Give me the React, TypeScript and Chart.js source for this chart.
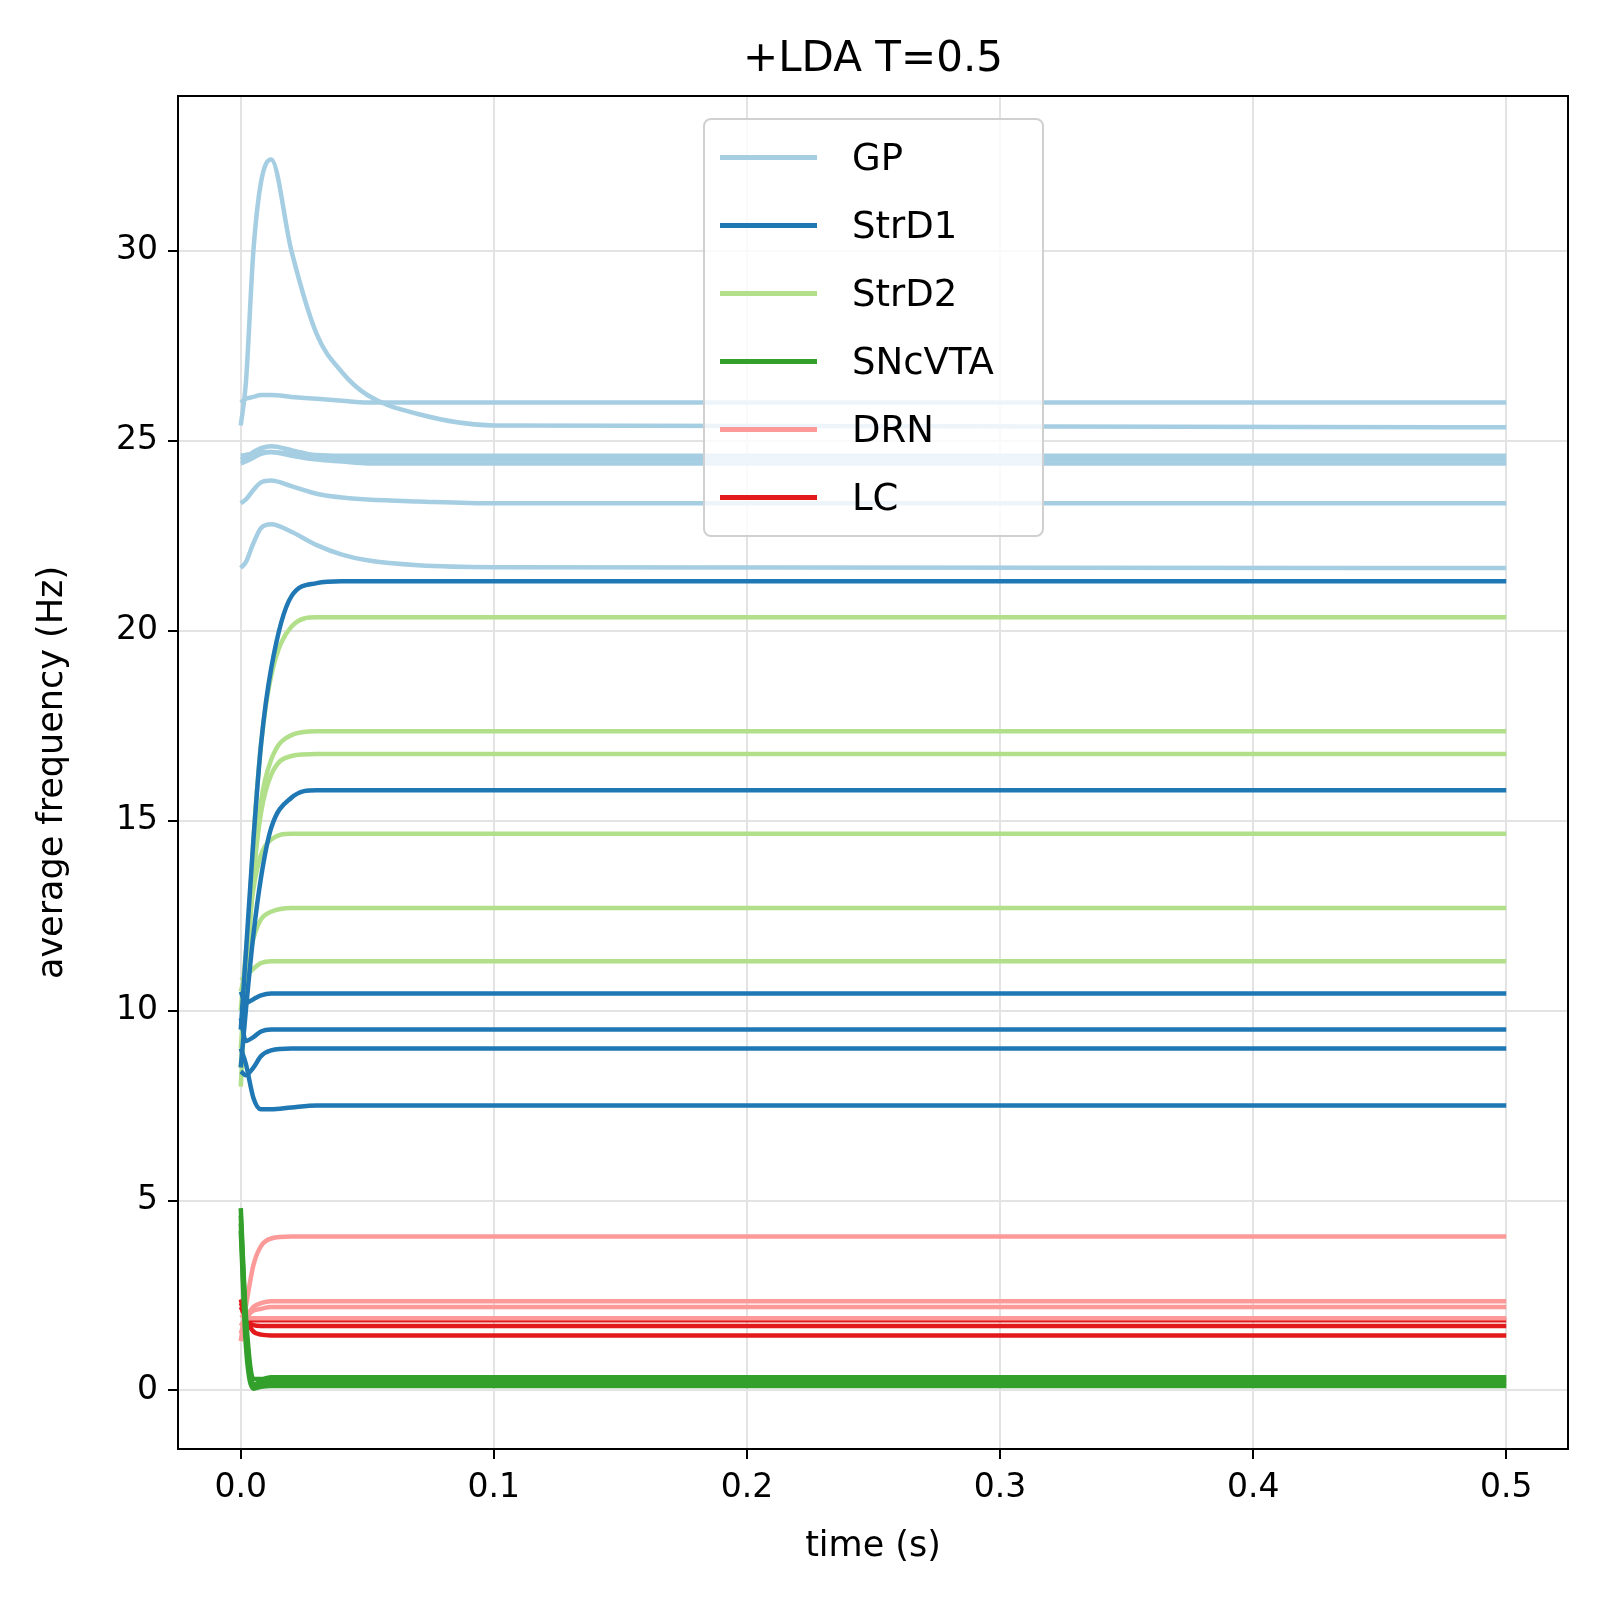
import { useEffect, useRef } from "react";
import { Chart, registerables, type Plugin } from "chart.js";

Chart.register(...registerables);

const TIMES = [0, 0.002, 0.005, 0.008, 0.012, 0.02, 0.03, 0.04, 0.05, 0.07, 0.1, 0.5];
const X_TICKS = [0, 0.1, 0.2, 0.3, 0.4, 0.5];
const Y_TICKS = [0, 5, 10, 15, 20, 25, 30];

const GP_TRACES = [
  [25.4, 26.5, 30.0, 31.8, 32.4, 30.0, 27.8, 26.8, 26.2, 25.7, 25.4, 25.35],
  [26.0, 26.1, 26.15, 26.2, 26.2, 26.15, 26.1, 26.05, 26.0, 26.0, 26.0, 26.0],
  [24.5, 24.55, 24.7, 24.8, 24.85, 24.75, 24.6, 24.55, 24.5, 24.5, 24.5, 24.5],
  [24.4, 24.45, 24.55, 24.65, 24.7, 24.6, 24.5, 24.45, 24.4, 24.4, 24.4, 24.4],
  [24.6, 24.62, 24.66, 24.7, 24.7, 24.65, 24.62, 24.6, 24.6, 24.6, 24.6, 24.6],
  [23.35, 23.45, 23.7, 23.9, 23.95, 23.8, 23.6, 23.5, 23.45, 23.4, 23.35, 23.35],
  [21.65, 21.8, 22.3, 22.7, 22.8, 22.6, 22.25, 22.0, 21.85, 21.72, 21.67, 21.65],
];
const STRD1_TRACES = [
  [9.5, 11.5, 14.5, 17.0, 19.0, 20.9, 21.25, 21.3, 21.3, 21.3, 21.3, 21.3],
  [8.5, 10.0, 12.0, 13.5, 14.8, 15.6, 15.8, 15.8, 15.8, 15.8, 15.8, 15.8],
  [10.5, 10.2, 10.3, 10.4, 10.45, 10.45, 10.45, 10.45, 10.45, 10.45, 10.45, 10.45],
  [9.8, 9.2, 9.3, 9.45, 9.5, 9.5, 9.5, 9.5, 9.5, 9.5, 9.5, 9.5],
  [8.4, 8.3, 8.5, 8.8, 8.95, 9.0, 9.0, 9.0, 9.0, 9.0, 9.0, 9.0],
  [9.0, 8.6, 7.7, 7.4, 7.4, 7.45, 7.5, 7.5, 7.5, 7.5, 7.5, 7.5],
];
const STRD2_TRACES = [
  [9.0, 11.0, 14.5, 17.0, 18.8, 20.1, 20.35, 20.35, 20.35, 20.35, 20.35, 20.35],
  [8.0, 10.5, 13.5, 15.5, 16.6, 17.25, 17.35, 17.35, 17.35, 17.35, 17.35, 17.35],
  [8.5, 10.8, 13.5, 15.2, 16.2, 16.7, 16.75, 16.75, 16.75, 16.75, 16.75, 16.75],
  [10.0, 11.5, 13.2, 14.1, 14.5, 14.65, 14.65, 14.65, 14.65, 14.65, 14.65, 14.65],
  [10.5, 11.0, 11.9, 12.4, 12.6, 12.7, 12.7, 12.7, 12.7, 12.7, 12.7, 12.7],
  [10.8, 10.9, 11.1, 11.25, 11.3, 11.3, 11.3, 11.3, 11.3, 11.3, 11.3, 11.3],
];
const SNC_TRACES = [
  [4.8, 2.0, 0.3, 0.3, 0.35, 0.35, 0.35, 0.35, 0.35, 0.35, 0.35, 0.35],
  [4.6, 1.8, 0.15, 0.25, 0.28, 0.28, 0.28, 0.28, 0.28, 0.28, 0.28, 0.28],
  [4.4, 1.5, 0.05, 0.18, 0.2, 0.2, 0.2, 0.2, 0.2, 0.2, 0.2, 0.2],
  [4.2, 1.2, 0.05, 0.1, 0.12, 0.12, 0.12, 0.12, 0.12, 0.12, 0.12, 0.12],
];
const DRN_TRACES = [
  [1.3, 2.2, 3.3, 3.8, 4.0, 4.05, 4.05, 4.05, 4.05, 4.05, 4.05, 4.05],
  [1.5, 1.9, 2.2, 2.3, 2.35, 2.35, 2.35, 2.35, 2.35, 2.35, 2.35, 2.35],
  [1.7, 1.9, 2.1, 2.15, 2.2, 2.2, 2.2, 2.2, 2.2, 2.2, 2.2, 2.2],
  [2.0, 1.9, 1.9, 1.9, 1.9, 1.9, 1.9, 1.9, 1.9, 1.9, 1.9, 1.9],
];
const LC_TRACES = [
  [2.3, 2.0, 1.85, 1.85, 1.85, 1.85, 1.85, 1.85, 1.85, 1.85, 1.85, 1.85],
  [2.2, 1.9, 1.72, 1.7, 1.7, 1.7, 1.7, 1.7, 1.7, 1.7, 1.7, 1.7],
  [2.4, 1.9, 1.55, 1.47, 1.45, 1.45, 1.45, 1.45, 1.45, 1.45, 1.45, 1.45],
];

const GROUPS = [
  { name: "GP", color: "#a6cee3", traces: GP_TRACES },
  { name: "StrD1", color: "#1f78b4", traces: STRD1_TRACES },
  { name: "StrD2", color: "#b2df8a", traces: STRD2_TRACES },
  { name: "SNcVTA", color: "#33a02c", traces: SNC_TRACES },
  { name: "DRN", color: "#fb9a99", traces: DRN_TRACES },
  { name: "LC", color: "#e31a1c", traces: LC_TRACES },
];

const FONT = "'DejaVu Sans', sans-serif";

const frame: Plugin = {
  id: "frame",
  afterDraw(chart) {
    const { ctx, chartArea: a } = chart;
    ctx.save();
    ctx.strokeStyle = "#000";
    ctx.lineWidth = 2;
    ctx.strokeRect(a.left, a.top, a.right - a.left, a.bottom - a.top);
    ctx.restore();
  },
};

export default function App() {
  const ref = useRef<HTMLCanvasElement>(null);

  useEffect(() => {
    if (!ref.current) return;
    const datasets = GROUPS.flatMap((g) =>
      g.traces.map((tr) => ({
        label: g.name,
        data: tr.map((y, i) => ({ x: TIMES[i], y })),
        borderColor: g.color,
        backgroundColor: g.color,
        borderWidth: 4.5,
        pointRadius: 0,
        cubicInterpolationMode: "monotone" as const,
      })),
    );
    const chart = new Chart(ref.current, {
      type: "line",
      data: { datasets },
      options: {
        animation: false,
        responsive: false,
        layout: { padding: { top: 88, right: 30, left: 20, bottom: 36 } },
        plugins: { legend: { display: false }, tooltip: { enabled: false } },
        scales: {
          x: {
            type: "linear",
            min: -0.0248,
            max: 0.5244,
            afterBuildTicks: (s) => {
              s.ticks = X_TICKS.map((v) => ({ value: v }));
            },
            afterFit: (s) => {
              s.height = 123;
            },
            grid: { color: "#e3e3e3", lineWidth: 2, tickColor: "#000", tickLength: 10 },
            border: { display: false },
            ticks: { color: "#000", padding: 10, font: { family: FONT, size: 33 }, callback: (v) => Number(v).toFixed(1) },
            title: { display: true, text: "time (s)", color: "#000", font: { family: FONT, size: 35 } },
          },
          y: {
            type: "linear",
            min: -1.54,
            max: 34.07,
            afterBuildTicks: (s) => {
              s.ticks = Y_TICKS.map((v) => ({ value: v }));
            },
            afterFit: (s) => {
              s.width = 150;
            },
            grid: { color: "#e3e3e3", lineWidth: 2, tickColor: "#000", tickLength: 10 },
            border: { display: false },
            ticks: { color: "#000", padding: 10, font: { family: FONT, size: 33 } },
            title: { display: true, text: "average frequency (Hz)", color: "#000", font: { family: FONT, size: 35 } },
          },
        },
      },
      plugins: [frame],
    });
    return () => chart.destroy();
  }, []);

  return (
    <div style={{ position: "relative", width: 1590, height: 1600, fontFamily: FONT }}>
      <canvas ref={ref} width={1590} height={1600} />
      <div style={{ position: "absolute", top: 24, left: 170, width: 1390, textAlign: "center", fontSize: 42 }}>
        +LDA T=0.5
      </div>
      <div
        style={{
          position: "absolute", left: 695, top: 110, width: 337, height: 415,
          border: "2px solid #d0d0d0", borderRadius: 8, background: "rgba(255,255,255,0.8)",
        }}
      >
        {GROUPS.map((g, i) => (
          <div key={g.name} style={{ position: "absolute", top: 15 + i * 68, left: 15, display: "flex", alignItems: "center", height: 44 }}>
            <div style={{ width: 97, height: 5, background: g.color }} />
            <span style={{ marginLeft: 35, fontSize: 37 }}>{g.name}</span>
          </div>
        ))}
      </div>
    </div>
  );
}
